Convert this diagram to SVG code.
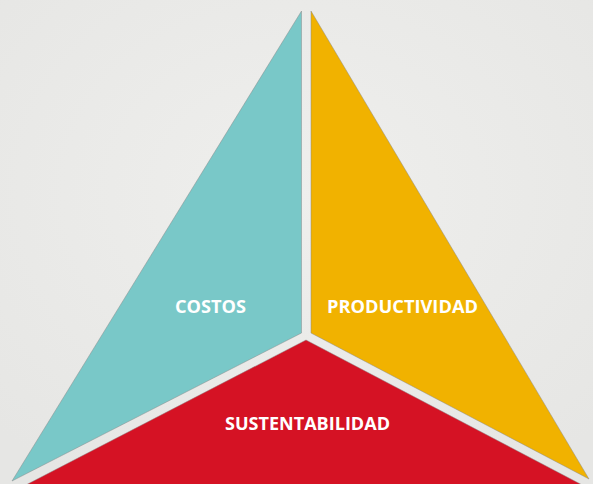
<svg xmlns="http://www.w3.org/2000/svg" width="593" height="484" viewBox="0 0 593 484">
<style>
.lbl{font-family:"Open Sans","DejaVu Sans",sans-serif;font-weight:bold;font-size:18px;fill:#ffffff}
.edge{stroke:#8a8a8a;stroke-width:0.8;stroke-opacity:0.6}
</style>
<defs>
<radialGradient id="bg" cx="50%" cy="40%" r="70%">
<stop offset="0" stop-color="#efefed"/>
<stop offset="1" stop-color="#e6e6e4"/>
</radialGradient>
</defs>
<rect width="593" height="484" fill="url(#bg)"/>
<g id="costos">
<polygon class="edge" points="301.5,11 301.5,333 12,481" fill="#79c8c8"/>
<text class="lbl" x="210.5" y="313" text-anchor="middle" textLength="71" lengthAdjust="spacingAndGlyphs">COSTOS</text>
</g>
<g id="productividad">
<polygon class="edge" points="311,11 311,333 589,479" fill="#f1b200"/>
<text class="lbl" x="402.5" y="313" text-anchor="middle" textLength="151" lengthAdjust="spacingAndGlyphs">PRODUCTIVIDAD</text>
</g>
<g id="sustentabilidad">
<polygon class="edge" points="306,340 588,488 20,488" fill="#d51224"/>
<text class="lbl" x="307.5" y="430" text-anchor="middle" textLength="165" lengthAdjust="spacingAndGlyphs">SUSTENTABILIDAD</text>
</g>
</svg>
